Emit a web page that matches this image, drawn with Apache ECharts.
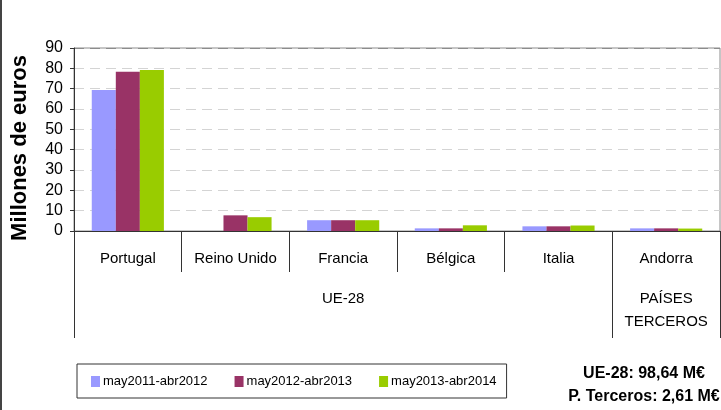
<!DOCTYPE html>
<html>
<head>
<meta charset="utf-8">
<script src="https://cdn.jsdelivr.net/npm/echarts@6/dist/echarts.min.js"></script>
<style>
html,body{margin:0;padding:0;background:#fff;}
#c{width:721px;height:410px;}
</style>
</head>
<body>
<div id="c"></div>
<script>
const categories = ['Portugal', 'Reino Unido', 'Francia', 'Bélgica', 'Italia', 'Andorra'];
const groupNames = ['UE-28', 'PAÍSES\nTERCEROS'];
const groupCenters = [2.5, 5.5];
const groupBounds = [0, 5, 6];
const seriesNames = ['may2011-abr2012', 'may2012-abr2013', 'may2013-abr2014'];
const s2011 = [69.4, null, 5.3, 1.3, 2.3, 1.3];
const s2012 = [78.3, 7.7, 5.3, 1.3, 2.3, 1.3];
const s2013 = [79.2, 6.8, 5.3, 2.8, 2.7, 1.2];
const yTicks = [0, 10, 20, 30, 40, 50, 60, 70, 80, 90];
const yTitle = 'Millones de euros';
const notes = ['UE-28: 98,64 M€', 'P. Terceros: 2,61 M€'];

const colors = ['#9999FF', '#993366', '#99CC00'];
const font = 'Liberation Sans, Arial, sans-serif';
const chart = echarts.init(document.getElementById('c'), null, {renderer: 'canvas'});
const splitColors = yTicks.map((v, i) => i === yTicks.length - 1 ? '#8c8c8c' : '#d4d4d4');

chart.setOption({
  animation: false,
  color: colors,
  textStyle: {fontFamily: font},
  grid: {left: 74, right: 1, top: 48, bottom: 179, show: true, borderColor: '#8c8c8c', borderWidth: 1, backgroundColor: 'transparent'},
  xAxis: [{
    type: 'category',
    data: categories,
    position: 'bottom',
    axisLine: {lineStyle: {color: '#333', width: 1}},
    axisTick: {show: true, length: 41, interval: 0, lineStyle: {color: '#333'}},
    axisLabel: {interval: 0, fontSize: 15, color: '#000', margin: 20, fontFamily: font}
  }, {
    type: 'value',
    min: 0, max: 6,
    position: 'bottom',
    axisLine: {show: false},
    splitLine: {show: false},
    axisTick: {show: true, customValues: groupBounds, length: 107, lineStyle: {color: '#333'}},
    axisLabel: {
      customValues: groupCenters,
      formatter: v => groupNames[groupCenters.indexOf(v)],
      fontSize: 15, color: '#000', margin: 56, lineHeight: 23, verticalAlign: 'top', fontFamily: font
    }
  }],
  yAxis: {
    type: 'value',
    min: yTicks[0], max: yTicks[yTicks.length - 1], interval: 10,
    axisLine: {show: true, lineStyle: {color: '#333'}},
    axisTick: {show: true, length: 4, lineStyle: {color: '#333'}},
    axisLabel: {fontSize: 16, color: '#000', margin: 11, fontFamily: font},
    splitLine: {show: true, lineStyle: {type: [10, 6], color: splitColors, width: 1}}
  },
  legend: {
    left: 77, top: 364,
    orient: 'horizontal',
    data: seriesNames,
    itemWidth: 9, itemHeight: 11, itemGap: 27,
    icon: 'rect',
    padding: [11, 10, 10, 14],
    borderColor: '#333', borderWidth: 1,
    textStyle: {fontSize: 13, color: '#000', fontFamily: font, padding: [0, 0, 0, -2]}
  },
  series: [
    {name: seriesNames[0], type: 'bar', data: s2011, barGap: '0%', barCategoryGap: '33%'},
    {name: seriesNames[1], type: 'bar', data: s2012, barGap: '0%', barCategoryGap: '33%'},
    {name: seriesNames[2], type: 'bar', data: s2013, barGap: '0%', barCategoryGap: '33%'}
  ],
  graphic: [
    {type: 'line', shape: {x1: 1, y1: 0, x2: 1, y2: 410}, style: {stroke: '#444', lineWidth: 2}, silent: true},
    {type: 'text', x: 20, y: 148, rotation: Math.PI / 2, style: {text: yTitle, fontSize: 22, fontWeight: 'bold', fill: '#000', align: 'center', verticalAlign: 'middle', fontFamily: font}},
    {type: 'text', x: 644, y: 374, style: {text: notes[0], fontSize: 16, fontWeight: 'bold', fill: '#000', align: 'center', verticalAlign: 'middle', fontFamily: font}},
    {type: 'text', x: 644, y: 397, style: {text: notes[1], fontSize: 16, fontWeight: 'bold', fill: '#000', align: 'center', verticalAlign: 'middle', fontFamily: font}}
  ]
});
</script>
</body>
</html>
